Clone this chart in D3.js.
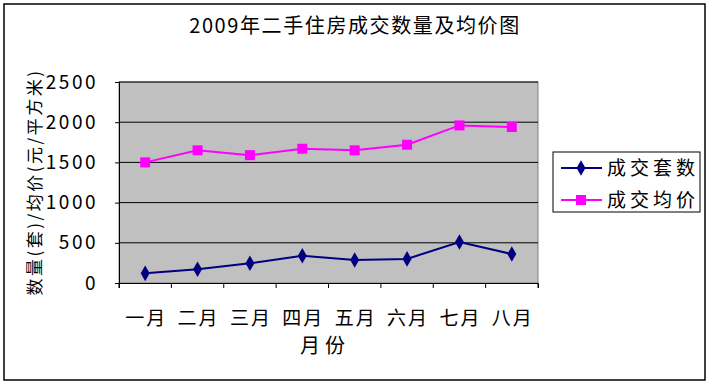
<!DOCTYPE html>
<html><head><meta charset="utf-8">
<script src="https://cdn.jsdelivr.net/npm/d3@7/dist/d3.min.js"></script>
<style>body{margin:0;background:#fff}svg{display:block}text{font-family:"Noto Sans CJK SC","DejaVu Sans",sans-serif;fill:#000}</style>
</head><body>
<script>
const months = ["一月","二月","三月","四月","五月","六月","七月","八月"];
const volume = [120,170,245,340,285,300,510,360];
const price = [1500,1650,1590,1670,1650,1720,1960,1940];
const yTicks = [0,500,1000,1500,2000,2500];
const seriesNames = ["成交套数","成交均价"];
const colors = ["#000080","#ff00ff"];

const W=712,H=384;
const svg=d3.select("body").append("svg").attr("width",W).attr("height",H);
svg.append("rect").attr("x",4).attr("y",4).attr("width",701).attr("height",376).attr("fill","#fff").attr("stroke","#000").attr("stroke-width",1.5);

const L=119,R=538,T=82,B=283;
const x=d3.scaleBand().domain(months).range([L,R]);
const y=d3.scaleLinear().domain([0,2500]).range([B,T]);

svg.append("rect").attr("x",L).attr("y",T).attr("width",R-L).attr("height",B-T).attr("fill","#c0c0c0").attr("stroke","#808080");
svg.append("g").selectAll("line").data(yTicks.slice(1)).join("line")
 .attr("x1",L).attr("x2",R).attr("y1",d=>y(d)).attr("y2",d=>y(d)).attr("stroke","#000");

const ya=svg.append("g").attr("transform",`translate(${L},0)`).call(d3.axisLeft(y).tickValues(yTicks).tickFormat(d3.format("d")).tickSize(4).tickPadding(17));
ya.select(".domain").attr("stroke","#000");
ya.selectAll("text").attr("font-size",19).attr("letter-spacing",2.5);
const xa=svg.append("g").attr("transform",`translate(0,${B})`).call(d3.axisBottom(x).tickSize(5).tickPadding(24));
xa.select(".domain").attr("stroke","#000");
xa.selectAll(".tick line").attr("transform",`translate(${x.bandwidth()/2},0)`);
xa.selectAll("text").attr("font-size",19).attr("letter-spacing",2).attr("dx",1);
svg.append("line").attr("x1",L).attr("x2",L).attr("y1",B).attr("y2",B+5).attr("stroke","#000");

const line=d3.line().x((d,i)=>x(months[i])+x.bandwidth()/2).y(d=>y(d));
[volume,price].forEach((s,k)=>{
  svg.append("path").datum(s).attr("d",line).attr("fill","none").attr("stroke",colors[k]).attr("stroke-width",2);
  const g=svg.append("g");
  s.forEach((v,i)=>{
    const cx=x(months[i])+x.bandwidth()/2, cy=y(v);
    if(k===0) g.append("path").attr("d",d3.symbol(d3.symbolDiamond,70)()).attr("transform",`translate(${cx},${cy})`).attr("fill",colors[k]);
    else g.append("rect").attr("x",cx-5).attr("y",cy-5).attr("width",10).attr("height",10).attr("fill",colors[k]);
  });
});

svg.append("text").attr("x",355).attr("y",33).attr("text-anchor","middle").attr("font-size",20).attr("letter-spacing",1.6).text("2009年二手住房成交数量及均价图");
svg.append("text").attr("x",325).attr("y",353).attr("text-anchor","middle").attr("font-size",20).attr("letter-spacing",5).text("月份");
svg.append("text").attr("transform","translate(41,182) rotate(-90)").attr("text-anchor","middle").attr("font-size",17).attr("letter-spacing",2.5).text("数量(套)/均价(元/平方米)");

const lg=svg.append("g");
lg.append("rect").attr("x",553).attr("y",152).attr("width",147).attr("height",60).attr("fill","#fff").attr("stroke","#000");
seriesNames.forEach((n,k)=>{
  const yy=168+k*32;
  lg.append("line").attr("x1",561).attr("x2",602).attr("y1",yy).attr("y2",yy).attr("stroke",colors[k]).attr("stroke-width",2);
  if(k===0) lg.append("path").attr("d",d3.symbol(d3.symbolDiamond,70)()).attr("transform",`translate(581,${yy})`).attr("fill",colors[k]);
  else lg.append("rect").attr("x",576).attr("y",yy-5).attr("width",10).attr("height",10).attr("fill",colors[k]);
  lg.append("text").attr("x",607).attr("y",yy+7).attr("font-size",19).attr("letter-spacing",4).text(n);
});
</script>
</body></html>
